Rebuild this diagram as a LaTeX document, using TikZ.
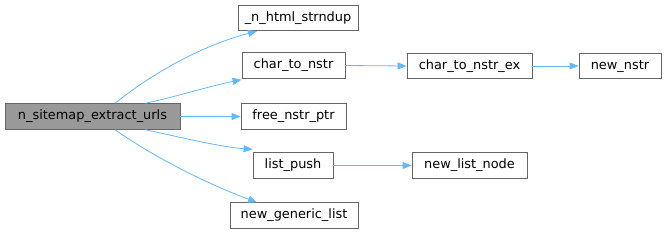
\documentclass[tikz,border=0pt]{standalone}
\usepackage{fontspec}
\setmainfont{DejaVu Sans}
\usetikzlibrary{arrows.meta}
\definecolor{edgeblue}{HTML}{63B8FF}
\definecolor{boxborder}{HTML}{666666}
\definecolor{rootfill}{HTML}{999999}
\begin{document}
\begin{tikzpicture}[x=1pt,y=-1pt,
  fn/.style={draw=boxborder,fill=white,line width=0.8pt,rectangle,inner sep=0pt,minimum height=25.5pt,font=\fontsize{12.9}{15}\selectfont,text=black},
  rootfn/.style={fn,fill=rootfill},
  call/.style={draw=edgeblue,line width=0.8pt,-{Triangle[length=9pt,width=7pt]}}]
\useasboundingbox (0,0) rectangle (667,233);
\node[rootfn,minimum width=175pt] (main) at (92.5,116.5) {n\_sitemap\_extract\_urls};
\node[fn,minimum width=120pt] (html) at (298,18) {\_n\_html\_strndup};
\node[fn,minimum width=103pt] (cton) at (293.5,65.5) {char\_to\_nstr};
\node[fn,minimum width=125pt] (ctonex) at (469.5,66) {char\_to\_nstr\_ex};
\node[fn,minimum width=82pt] (newnstr) at (620,66) {new\_nstr};
\node[fn,minimum width=105pt] (free) at (293.5,116.5) {free\_nstr\_ptr};
\node[fn,minimum width=80pt] (push) at (293,165.5) {list\_push};
\node[fn,minimum width=115pt] (newlist) at (469.5,165.5) {new\_list\_node};
\node[fn,minimum width=128pt] (gen) at (294,215.5) {new\_generic\_list};
\draw[call] ([xshift=22.5pt]main.north) .. controls (150,75) and (200,46) .. ([xshift=-41pt]html.south);
\draw[call] ([xshift=52.5pt]main.north) .. controls (175,97) and (210,86) .. ([yshift=-1pt]cton.south west);
\draw[call] (main.east) -- (free.west);
\draw[call] ([xshift=52.5pt]main.south) .. controls (175,136) and (220,147) .. ([yshift=3pt]push.north west);
\draw[call] ([xshift=22.5pt]main.south) .. controls (155,158) and (210,185) .. ([xshift=-37pt]gen.north);
\draw[call] (cton.east) -- (ctonex.west);
\draw[call] (ctonex.east) -- (newnstr.west);
\draw[call] (push.east) -- (newlist.west);
\end{tikzpicture}
\end{document}
